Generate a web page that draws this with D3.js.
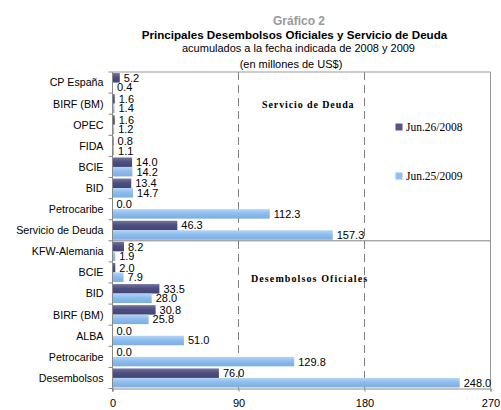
<html>
<head>
<meta charset="utf-8">
<script src="https://d3js.org/d3.v7.min.js"></script>
<style>
  body { margin: 0; background: #fff; }
</style>
</head>
<body>
<script>
// categories top to bottom (some names repeat, so rows are keyed by index)
var categories = ["CP España", "BIRF (BM)", "OPEC", "FIDA", "BCIE", "BID", "Petrocaribe", "Servicio de Deuda",
                  "KFW-Alemania", "BCIE", "BID", "BIRF (BM)", "ALBA", "Petrocaribe", "Desembolsos"];
var jun2008 = [5.2, 1.6, 1.6, 0.8, 14.0, 13.4, 0.0, 46.3, 8.2, 2.0, 33.5, 30.8, 0.0, 0.0, 76.0];
var jun2009 = [0.4, 1.4, 1.2, 1.1, 14.2, 14.7, 112.3, 157.3, 1.9, 7.9, 28.0, 25.8, 51.0, 129.8, 248.0];
var seriesNames = ["Jun.26/2008", "Jun.25/2009"];
var xTicks = [0, 90, 180, 270];

var width = 501, height = 410;
var pLeft = 112.5, pRight = 490.5, pTop = 72, pBottom = 388.5;
var sans = '"Liberation Sans", Arial, sans-serif';
var serif = '"Liberation Serif", "Times New Roman", serif';

var svg = d3.select('body').append('svg').attr('width', width).attr('height', height)
    .style('font-family', sans);

var defs = svg.append('defs');
function grad(id, c1, c2, c3) {
    var g = defs.append('linearGradient').attr('id', id).attr('x1', 0).attr('y1', 0).attr('x2', 0).attr('y2', 1);
    g.append('stop').attr('offset', '0%').attr('stop-color', c1);
    g.append('stop').attr('offset', '45%').attr('stop-color', c2);
    g.append('stop').attr('offset', '100%').attr('stop-color', c3);
}
grad('g08', '#7575a3', '#4e4e80', '#434374');
grad('g09', '#b3d5f7', '#8dbdee', '#7eaee0');
var fills = ['url(#g08)', 'url(#g09)'];
var legendFills = ['#55558a', '#8fc0f0'];

var x = d3.scaleLinear().domain([0, 270]).range([pLeft, pRight]);
var idx = d3.range(categories.length);
var y = d3.scaleBand().domain(idx).range([pTop, pBottom]).paddingInner(0.1).paddingOuter(0.05);
var ySub = d3.scaleBand().domain([0, 1]).range([0, y.bandwidth()]);

// titles
svg.append('text').attr('x', 299).attr('y', 25).attr('text-anchor', 'middle')
    .attr('font-size', 12).attr('font-weight', 'bold').attr('fill', '#999').text('Gráfico 2');
svg.append('text').attr('x', 294.5).attr('y', 38.5).attr('text-anchor', 'middle')
    .attr('font-size', 11.6).attr('font-weight', 'bold').attr('fill', '#000')
    .text('Principales Desembolsos Oficiales y Servicio de Deuda');
svg.append('text').attr('x', 298.5).attr('y', 52).attr('text-anchor', 'middle')
    .attr('font-size', 11).text('acumulados a la fecha indicada de 2008 y 2009');
svg.append('text').attr('x', 291).attr('y', 68).attr('text-anchor', 'middle')
    .attr('font-size', 11).text('(en millones de US$)');

// gridlines
svg.selectAll('.grid').data(xTicks.slice(1, 3)).enter().append('line')
    .attr('x1', d => x(d)).attr('x2', d => x(d)).attr('y1', pTop).attr('y2', pBottom)
    .attr('stroke', '#808080').attr('stroke-dasharray', '8,5');

// frame top / right
svg.append('line').attr('x1', pLeft).attr('x2', pRight).attr('y1', pTop).attr('y2', pTop).attr('stroke', '#999');
svg.append('line').attr('x1', pRight).attr('x2', pRight).attr('y1', pTop).attr('y2', pBottom).attr('stroke', '#999');

// section annotations
svg.append('text').attr('x', 262).attr('y', 108).style('font-family', serif)
    .attr('font-weight', 'bold').attr('font-size', 10).attr('letter-spacing', 0.9).text('Servicio de Deuda');
svg.append('text').attr('x', 251).attr('y', 281.5).style('font-family', serif)
    .attr('font-weight', 'bold').attr('font-size', 10).attr('letter-spacing', 1.1).text('Desembolsos Oficiales');

// bars
var series = [jun2008, jun2009];
series.forEach(function(vals, s) {
    var g = svg.append('g');
    g.selectAll('rect').data(idx).enter().append('rect')
        .attr('x', x(0)).attr('y', i => y(i) + ySub(s))
        .attr('width', i => x(vals[i]) - x(0)).attr('height', ySub.bandwidth())
        .attr('fill', fills[s]);
    g.selectAll('text').data(idx).enter().append('text')
        .attr('x', i => x(vals[i]) + 4).attr('y', i => y(i) + ySub(s) + ySub.bandwidth() / 2)
        .attr('dy', '0.36em').attr('font-size', 11).attr('fill', '#000')
        .text(i => vals[i].toFixed(1));
});

// separator between the two sections
var sep = y(8) - y.step() * y.paddingInner() / 2;
svg.append('line').attr('x1', pLeft).attr('x2', pRight).attr('y1', sep).attr('y2', sep)
    .attr('stroke', '#000').attr('stroke-dasharray', '1,1');

// left axis: category boundaries as ticks
var bounds = idx.map(i => y(i) - y.step() * y.paddingInner() / 2).slice(1);
bounds.unshift(pTop);
bounds.push(pBottom);
svg.append('line').attr('x1', pLeft).attr('x2', pLeft).attr('y1', pTop).attr('y2', pBottom + 3).attr('stroke', '#888');
svg.selectAll('.ltick').data(bounds).enter().append('line')
    .attr('x1', pLeft - 4).attr('x2', pLeft).attr('y1', d => d).attr('y2', d => d).attr('stroke', '#888');
svg.selectAll('.cat').data(idx).enter().append('text')
    .attr('x', 103.5).attr('y', i => y(i) + y.bandwidth() / 2).attr('dy', '0.36em')
    .attr('text-anchor', 'end').attr('font-size', 10.7).text(i => categories[i]);

// bottom axis
var xAxis = svg.append('g').attr('transform', 'translate(0,' + pBottom + ')')
    .call(d3.axisBottom(x).tickValues(xTicks).tickSize(3).tickPadding(8).tickFormat(d3.format('d')));
xAxis.select('.domain').attr('stroke', '#888');
xAxis.selectAll('.tick line').attr('stroke', '#888');
xAxis.selectAll('text').attr('font-size', 11).style('font-family', sans).attr('fill', '#000');

// legend
var legend = svg.selectAll('.leg').data(seriesNames).enter().append('g')
    .attr('transform', (d, i) => 'translate(395.5,' + (123.5 + i * 49) + ')');
legend.append('rect').attr('width', 7).attr('height', 7).attr('fill', (d, i) => legendFills[i]);
legend.append('text').attr('x', 10.5).attr('y', 7.5).style('font-family', serif)
    .attr('font-size', 11.5).text(d => d);
</script>
</body>
</html>
